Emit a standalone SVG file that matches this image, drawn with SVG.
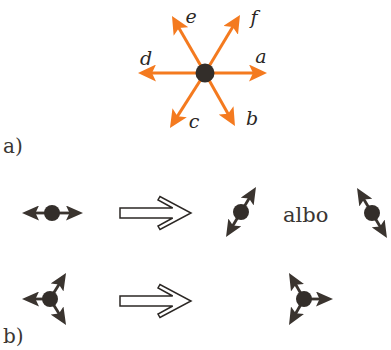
<svg xmlns="http://www.w3.org/2000/svg" width="391" height="350" viewBox="0 0 391 350">
<style>
.or{stroke:#f47a1f;stroke-width:3;fill:none;marker-end:url(#ho)}
.dk{stroke:#3a342f;stroke-width:2.8;fill:none;marker-end:url(#hd)}
.dot{fill:#332e2a}
.lbl{font-family:"DejaVu Serif","Liberation Serif",serif;font-style:italic;font-size:19px;fill:#2b2724;text-anchor:middle}
.txt{font-family:"DejaVu Serif","Liberation Serif",serif;font-size:20px;fill:#3a3633}
.hol{fill:#fff;stroke:#2b2724;stroke-width:1.5;stroke-linejoin:miter}
</style>
<defs>
<marker id="ho" viewBox="0 0 18 17" refX="12" refY="8.5" markerWidth="18" markerHeight="17" markerUnits="userSpaceOnUse" orient="auto">
<path d="M0,0 L18,8.5 L0,17 L4,8.5 z" fill="#f47a1f"/>
</marker>
<marker id="hd" viewBox="0 0 17 15" refX="12" refY="7.5" markerWidth="17" markerHeight="15" markerUnits="userSpaceOnUse" orient="auto">
<path d="M0,0 L17,7.5 L0,15 L3.5,7.5 z" fill="#3a342f"/>
</marker>
</defs>
<rect width="391" height="350" fill="#fff"/>

<g id="star">
<g id="connectors-a">
<line class="or" x1="205" y1="73" x2="261" y2="73"/>
<line class="or" x1="205" y1="73" x2="144" y2="73"/>
<line class="or" x1="205" y1="73" x2="236.9" y2="20.1"/>
<line class="or" x1="205" y1="73" x2="175" y2="21.2"/>
<line class="or" x1="205" y1="73" x2="173.2" y2="122.9"/>
<line class="or" x1="205" y1="73" x2="232" y2="120.8"/>
</g>
<circle id="center" class="dot" cx="205" cy="73" r="9.5"/>
<text class="lbl" x="261" y="63">a</text>
<text class="lbl" x="252" y="125">b</text>
<text class="lbl" x="194" y="128">c</text>
<text class="lbl" x="146" y="65">d</text>
<text class="lbl" x="191" y="23">e</text>
<text class="lbl" x="254" y="24">f</text>
</g>
<text class="txt" x="3" y="153">a)</text>
<text class="txt" x="3" y="343">b)</text>

<g id="row1-left">
<line class="dk" x1="52" y1="213" x2="27" y2="213"/>
<line class="dk" x1="52" y1="213" x2="78" y2="213"/>
<circle class="dot" cx="52" cy="213" r="8"/>
</g>
<g id="row1-arrow">
<polygon class="hol" points="120,208 172.7,208 158,200 160,196.5 191,213 160,229.5 158,226 172.7,218 120,218"/>
</g>
<g id="row1-right1">
<line class="dk" x1="241" y1="212" x2="253.4" y2="191.3"/>
<line class="dk" x1="241" y1="212" x2="228.6" y2="232.7"/>
<circle class="dot" cx="241" cy="212" r="8"/>
</g>
<text class="txt" x="283" y="222" style="font-size:21px">albo</text>
<g id="row1-right2">
<line class="dk" x1="372" y1="213" x2="359.6" y2="192.3"/>
<line class="dk" x1="372" y1="213" x2="384.4" y2="233.7"/>
<circle class="dot" cx="372" cy="213" r="8"/>
</g>

<g id="row2-left">
<line class="dk" x1="50" y1="299" x2="27" y2="299"/>
<line class="dk" x1="50" y1="299" x2="63.4" y2="277.3"/>
<line class="dk" x1="50" y1="299" x2="63.4" y2="320.7"/>
<circle class="dot" cx="50" cy="299" r="8"/>
</g>
<g id="row2-arrow">
<polygon class="hol" points="120,296 172.7,296 158,288 160,284.5 191,301 160,317.5 158,314 172.7,306 120,306"/>
</g>
<g id="row2-right">
<line class="dk" x1="304" y1="299" x2="328" y2="299"/>
<line class="dk" x1="304" y1="299" x2="291.5" y2="277.3"/>
<line class="dk" x1="304" y1="299" x2="291.5" y2="320.7"/>
<circle class="dot" cx="304" cy="299" r="8"/>
</g>
</svg>
